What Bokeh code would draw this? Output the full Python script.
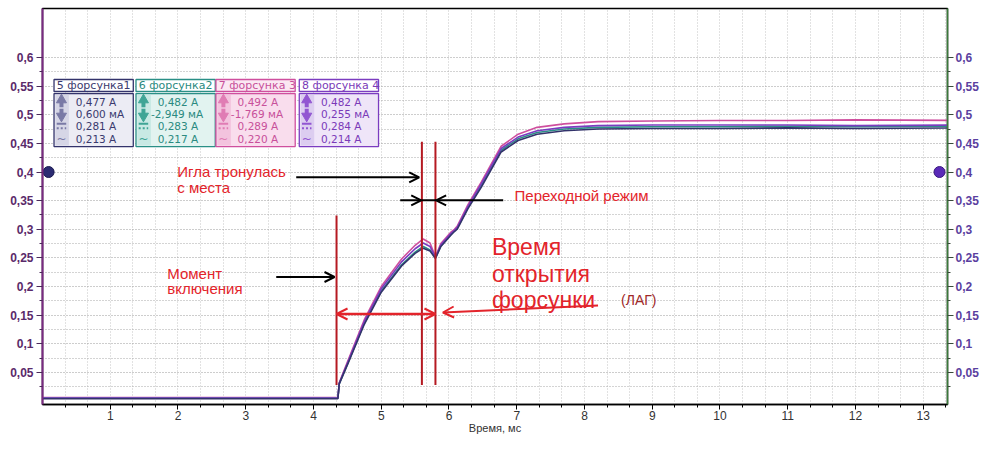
from bokeh.plotting import figure
from bokeh.models import Range1d, LinearAxis, FixedTicker, Arrow, OpenHead
from bokeh.core.properties import value
from bokeh.embed import file_html
from bokeh.resources import INLINE

# ---------------- data ----------------
time_ms = [0, 4.36, 4.38, 4.5, 4.75, 5.0, 5.3, 5.5, 5.62, 5.72, 5.8, 5.88, 6.03, 6.08, 6.12,
           6.28, 6.48, 6.77, 7.02, 7.3, 7.7, 8.2, 9, 10, 11, 12, 13.59]
ch5_a = [0.004, 0.004, 0.030, 0.063, 0.134, 0.190, 0.236, 0.258, 0.267, 0.262, 0.249, 0.270, 0.290,
         0.296, 0.300, 0.336, 0.374, 0.435, 0.455, 0.466, 0.472, 0.475, 0.476, 0.476, 0.477, 0.476, 0.477]
ch6_a = [0.005, 0.005, 0.030, 0.064, 0.136, 0.192, 0.238, 0.260, 0.270, 0.264, 0.250, 0.271, 0.291,
         0.297, 0.301, 0.338, 0.377, 0.438, 0.458, 0.469, 0.475, 0.478, 0.479, 0.479, 0.480, 0.479, 0.480]
ch7_a = [0.006, 0.006, 0.032, 0.068, 0.142, 0.200, 0.248, 0.272, 0.283, 0.276, 0.252, 0.275, 0.295,
         0.300, 0.305, 0.343, 0.383, 0.445, 0.466, 0.478, 0.484, 0.488, 0.489, 0.490, 0.490, 0.491, 0.490]
ch8_a = [0.005, 0.005, 0.031, 0.066, 0.139, 0.196, 0.243, 0.266, 0.276, 0.270, 0.251, 0.273, 0.293,
         0.298, 0.303, 0.340, 0.380, 0.441, 0.461, 0.472, 0.478, 0.481, 0.482, 0.482, 0.482, 0.481, 0.482]

channel_names = ["5 форсунка1", "6 форсунка2", "7 форсунка 3", "8 форсунка 4"]
stat_max = ["0,477 А", "0,482 А", "0,492 А", "0,482 А"]
stat_min = ["0,600 мА", "-2,949 мА", "-1,769 мА", "0,255 мА"]
stat_mean = ["0,281 А", "0,283 А", "0,289 А", "0,284 А"]
stat_rms = ["0,213 А", "0,217 А", "0,220 А", "0,214 А"]

y_ticks = [0.05, 0.1, 0.15, 0.2, 0.25, 0.3, 0.35, 0.4, 0.45, 0.5, 0.55, 0.6]
y_tick_labels = ["0,05", "0,1", "0,15", "0,2", "0,25", "0,3", "0,35", "0,4", "0,45", "0,5", "0,55", "0,6"]
y_minor = [0.025, 0.075, 0.125, 0.175, 0.225, 0.275, 0.325, 0.375, 0.425, 0.475, 0.525, 0.575]
x_ticks = [1, 2, 3, 4, 5, 6, 7, 8, 9, 10, 11, 12, 13]
x_minor = [k / 3 for k in range(1, 41) if k % 3 != 0]

# ---------------- styles ----------------
FONT = "Liberation Sans"
LFONT = "DejaVu Sans"
ch_colors = ["#33336b", "#2a8f86", "#cf4f9e", "#7b3cc0"]
ch_text = ["#3a3a6e", "#2a8a80", "#c8509a", "#7a3ab8"]
ch_fill = ["#ececf4", "#e2f3f0", "#f9dded", "#efe5f8"]
ch_icon_fill = ["#d6d6e6", "#c8e9e4", "#f3c3de", "#dccdf0"]
ch_icon = ["#7a7aa6", "#3fa596", "#e07cb4", "#9256d2"]
title_fill = ["#ffffff", "#ffffff", "#fbe7f2", "#ffffff"]
RED = "#e3242b"
DARK_RED = "#b51a22"

p = figure(width=984, height=439, x_range=Range1d(0, 13.358), y_range=Range1d(-0.0061, 0.6856),
           output_backend="svg", toolbar_location=None,
           min_border_left=42, min_border_right=37, min_border_top=8, min_border_bottom=35,
           x_axis_label="Время, мс")
p.background_fill_color = "white"
p.border_fill_color = "white"
p.outline_line_color = "black"
p.outline_line_width = 1.5

# x axis
xa = p.xaxis[0]
xa.ticker = FixedTicker(ticks=x_ticks, minor_ticks=x_minor)
xa.axis_line_color = "black"
xa.axis_line_width = 1.5
xa.major_tick_out = 5
xa.major_tick_in = 0
xa.minor_tick_out = 3
xa.minor_tick_in = 0
xa.major_tick_line_color = "black"
xa.minor_tick_line_color = "black"
xa.major_label_text_font = FONT
xa.major_label_text_font_size = "12px"
xa.major_label_text_color = "#333333"
xa.major_label_standoff = 1
xa.axis_label_text_font = FONT
xa.axis_label_text_font_size = "11px"
xa.axis_label_text_font_style = "normal"
xa.axis_label_text_color = "#333333"
xa.axis_label_standoff = -1

overrides = {t: l for t, l in zip(y_ticks, y_tick_labels)}

ya = p.yaxis[0]
ya.ticker = FixedTicker(ticks=y_ticks, minor_ticks=y_minor)
ya.major_label_overrides = overrides
ya.axis_line_color = "#7a2a82"
ya.axis_line_width = 2
ya.major_tick_out = 6
ya.major_tick_in = 0
ya.minor_tick_out = 3
ya.minor_tick_in = 0
ya.major_tick_line_color = "#4a2a5a"
ya.minor_tick_line_color = "#4a2a5a"
ya.major_label_text_font = FONT
ya.major_label_text_font_size = "12px"
ya.major_label_text_font_style = "bold"
ya.major_label_text_color = "#5a2a6a"
ya.major_label_standoff = 3

ra = LinearAxis(ticker=FixedTicker(ticks=y_ticks, minor_ticks=y_minor))
ra.major_label_overrides = overrides
ra.axis_line_color = "#3a7a3a"
ra.axis_line_width = 1.5
ra.major_tick_out = 6
ra.major_tick_in = 0
ra.minor_tick_out = 3
ra.minor_tick_in = 0
ra.major_tick_line_color = "#3a4a3a"
ra.minor_tick_line_color = "#3a4a3a"
ra.major_label_text_font = FONT
ra.major_label_text_font_size = "12px"
ra.major_label_text_font_style = "bold"
ra.major_label_text_color = "#5b3fa0"
ra.major_label_standoff = 2
p.add_layout(ra, "right")

# grids
p.xgrid.ticker = xa.ticker
p.ygrid.ticker = ya.ticker
p.xgrid.grid_line_color = "#c4c4c4"
p.xgrid.grid_line_dash = "1 2"
p.xgrid.minor_grid_line_color = "#c4c4c4"
p.xgrid.minor_grid_line_dash = "1 2"
p.ygrid.grid_line_color = "#9a9a9a"
p.ygrid.grid_line_dash = "1 2"
p.ygrid.minor_grid_line_color = "#a8a8a8"
p.ygrid.minor_grid_line_dash = "1 2"

# ---------------- curves ----------------
series = [ch7_a, ch6_a, ch8_a, ch5_a]
series_colors = [ch_colors[2], ch_colors[1], ch_colors[3], ch_colors[0]]
for ys, c in zip(series, series_colors):
    p.line(time_ms, ys, line_color=c, line_width=1.6)

# ---------------- legend boxes ----------------
box_left = [0.17, 1.38, 2.56, 3.79]
box_w = 1.17
title_top, title_bot = 0.5616, 0.5406
val_top, val_bot = 0.537, 0.4445
row_y = [0.5219, 0.5017, 0.4795, 0.4568]
icon_w = 0.22
for i in range(4):
    L = box_left[i]
    p.quad(left=[L], right=[L + box_w], top=[title_top], bottom=[title_bot],
           fill_color=title_fill[i], line_color=ch_colors[i], line_width=1.3)
    p.quad(left=[L], right=[L + box_w], top=[val_top], bottom=[val_bot],
           fill_color=ch_fill[i], line_color=ch_colors[i], line_width=1.3)
    p.quad(left=[L + 0.02], right=[L + icon_w], top=[val_top - 0.002], bottom=[val_bot + 0.002],
           fill_color=ch_icon_fill[i], line_color=None)
    p.text(x=[L + 0.04], y=[(title_top + title_bot) / 2], text=[channel_names[i]],
           text_font=value(LFONT), text_font_size="11px", text_color=ch_text[i],
           text_baseline="middle", text_align="left")
    vals = [stat_max[i], stat_min[i], stat_mean[i], stat_rms[i]]
    xs = [L + (0.22 if v.startswith("-") else 0.32) for v in vals]
    p.text(x=xs, y=row_y, text=vals, text_font=value(LFONT), text_font_size="10.5px",
           text_color=ch_text[i], text_baseline="middle", text_align="left")
    ix = L + 0.11
    p.segment(x0=[ix], y0=[row_y[0] - 0.009], x1=[ix], y1=[row_y[0] + 0.002],
              line_color=ch_icon[i], line_width=4)
    p.scatter(x=[ix], y=[row_y[0] + 0.004], marker="triangle", size=10,
              fill_color=ch_icon[i], line_color=ch_icon[i])
    p.segment(x0=[ix], y0=[row_y[1] + 0.009], x1=[ix], y1=[row_y[1] - 0.002],
              line_color=ch_icon[i], line_width=4)
    p.scatter(x=[ix], y=[row_y[1] - 0.004], marker="inverted_triangle", size=10,
              fill_color=ch_icon[i], line_color=ch_icon[i])
    p.segment(x0=[ix - 0.07], y0=[row_y[2] + 0.005], x1=[ix + 0.07], y1=[row_y[2] + 0.005],
              line_color=ch_icon[i], line_width=2)
    p.segment(x0=[ix - 0.07], y0=[row_y[2] - 0.003], x1=[ix + 0.07], y1=[row_y[2] - 0.003],
              line_color=ch_icon[i], line_width=2, line_dash="2 2")
    p.text(x=[ix], y=[row_y[3]], text=["~"], text_font=value(LFONT), text_font_size="12px",
           text_color=ch_icon[i], text_baseline="middle", text_align="center")

# ---------------- axis markers ----------------
p.scatter(x=[0.09], y=[0.4], marker="circle", size=11, fill_color="#2b2b72", line_color="#1a1a50")
p.scatter(x=[13.24], y=[0.4], marker="circle", size=11, fill_color="#5a2ab8", line_color="#3a1a80")

# ---------------- annotations ----------------
p.segment(x0=[4.34, 5.60, 5.80], y0=[0.324, 0.453, 0.453],
          x1=[4.34, 5.60, 5.80], y1=[0.028, 0.028, 0.028], line_color=DARK_RED, line_width=2)

p.add_layout(Arrow(start=OpenHead(size=11, line_color=RED, line_width=2),
                   end=OpenHead(size=11, line_color=RED, line_width=2),
                   x_start=4.34, y_start=0.152, x_end=5.80, y_end=0.152,
                   line_color=RED, line_width=2.5))
p.add_layout(Arrow(end=OpenHead(size=11, line_color=RED, line_width=2),
                   x_start=8.20, y_start=0.167, x_end=5.91, y_end=0.1546,
                   line_color=RED, line_width=2))

black_arrows = [(3.745, 0.3907, 5.56, 0.3907), (5.28, 0.3505, 5.59, 0.3505),
                (6.80, 0.3505, 5.81, 0.3505), (3.45, 0.2166, 4.31, 0.2166)]
for x0, y0, x1, y1 in black_arrows:
    p.add_layout(Arrow(end=OpenHead(size=10, line_color="black", line_width=2),
                       x_start=x0, y_start=y0, x_end=x1, y_end=y1,
                       line_color="black", line_width=2))
p.segment(x0=[5.59], y0=[0.3505], x1=[5.81], y1=[0.3505], line_color="black", line_width=2)

small_txt = ["Игла тронулась", "с места", "Переходной режим", "Момент", "включения"]
small_x = [1.989, 1.989, 6.968, 1.841, 1.841]
small_y = [0.4014, 0.3732, 0.359, 0.2234, 0.1958]
p.text(x=small_x, y=small_y, text=small_txt, text_font=value(FONT), text_font_size="15px",
       text_color=RED, text_baseline="alphabetic", text_align="left")

big_txt = ["Время", "открытия", "форсунки"]
big_y = [0.2695, 0.2215, 0.1765]
p.text(x=[6.634] * 3, y=big_y, text=big_txt, text_font=value(FONT), text_font_size="23px",
       text_color=RED, text_baseline="alphabetic", text_align="left")
p.text(x=[8.54], y=[0.1765], text=["(ЛАГ)"], text_font=value(FONT), text_font_size="14px",
       text_color="#a02828", text_baseline="alphabetic", text_align="left")

open("out.html", "w").write(file_html(p, INLINE))
